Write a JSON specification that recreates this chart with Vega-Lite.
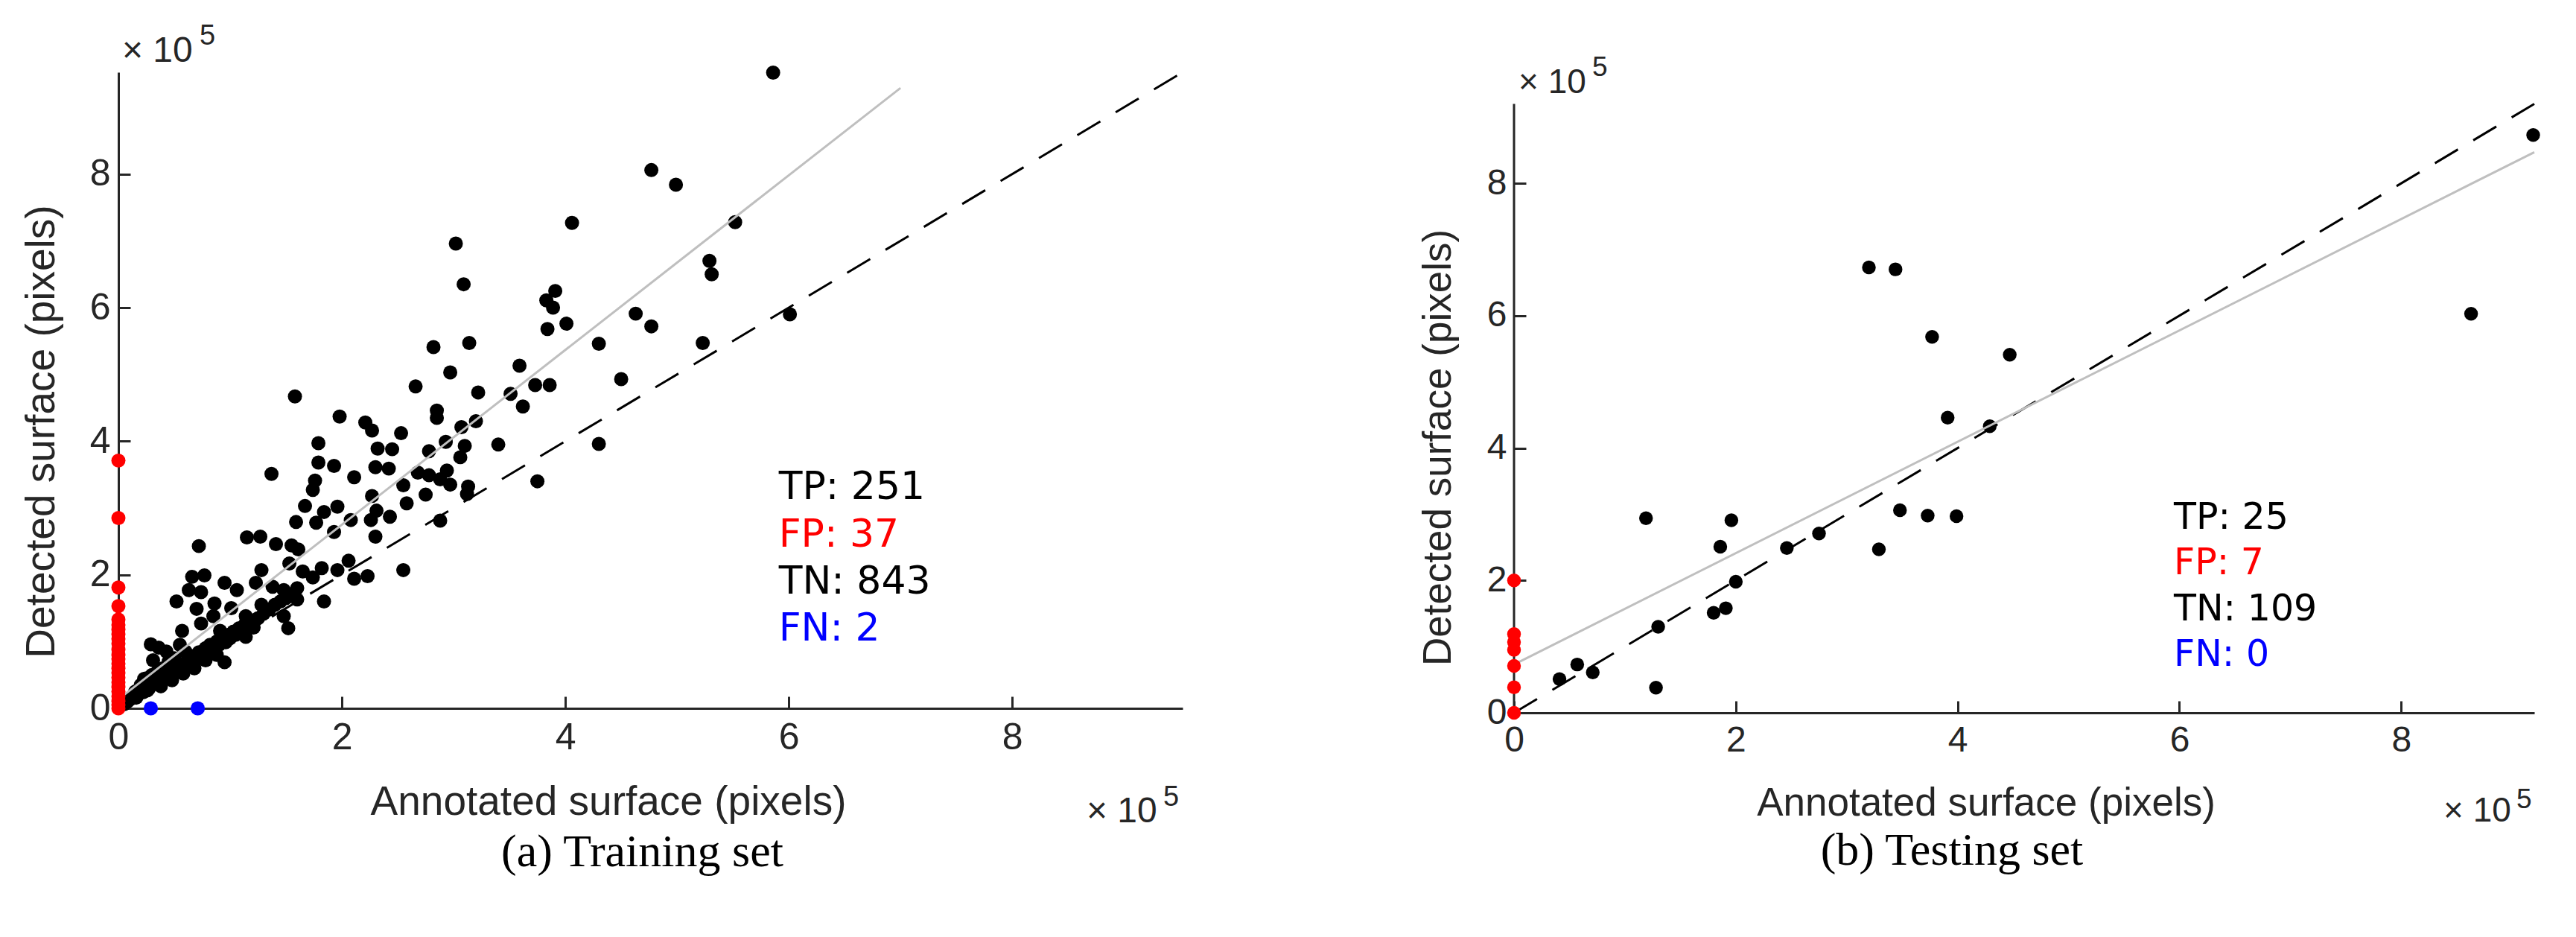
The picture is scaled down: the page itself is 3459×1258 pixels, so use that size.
{
  "$schema": "https://vega.github.io/schema/vega-lite/v6.json",
  "background": "white",
  "padding": {"left": 27, "top": 30, "right": 10, "bottom": 10},
  "spacing": 310,
  "align": "none",
  "config": {
    "view": {"stroke": null},
    "axis": {
      "grid": false,
      "domainColor": "#262626",
      "domainWidth": 3,
      "tickColor": "#262626",
      "tickWidth": 3,
      "tickSize": -16,
      "labelColor": "#262626",
      "labelFont": "Liberation Sans",
      "labelFontSize": 50,
      "titleFont": "Liberation Sans",
      "titleFontSize": 55,
      "titleFontWeight": "normal",
      "titleColor": "#262626",
      "labelFlush": false,
      "labelOverlap": false
    }
  },
  "hconcat": [
    {
      "width": 1429,
      "height": 854,
      "title": {"text": "(a) Training set", "orient": "bottom", "anchor": "middle", "frame": "group", "font": "Liberation Serif", "fontSize": 62, "fontWeight": "normal", "color": "#000000", "baseline": "top", "offset": 0, "dx": -11},
      "encoding": {
        "x": {"field": "a", "type": "quantitative", "scale": {"domain": [0, 952500], "nice": false},
          "axis": {"title": "Annotated surface (pixels)", "values": [0, 200000, 400000, 600000, 800000], "labelExpr": "format(datum.value / 100000, 'd')", "labelPadding": 30, "titleX": 657.5, "titleY": 142.5, "titleAlign": "center", "titleBaseline": "alphabetic", "titleAnchor": null}},
        "y": {"field": "d", "type": "quantitative", "scale": {"domain": [0, 952500], "nice": false},
          "axis": {"title": "Detected surface (pixels)", "values": [0, 200000, 400000, 600000, 800000], "labelExpr": "format(datum.value / 100000, 'd')", "labelPadding": 27, "titleX": -87, "titleY": 482, "titleAngle": 270, "titleAlign": "center", "titleBaseline": "alphabetic", "titleAnchor": null}}
      },
      "layer": [
        {
          "data": {"values": [
            {"a":586000,"d":952000},{"a":477000,"d":806000},{"a":499000,"d":784000},{"a":406000,"d":727000},{"a":552000,"d":728000},{"a":302000,"d":696000},{"a":529000,"d":670000},{"a":531000,"d":650000},{"a":309000,"d":635000},{"a":391000,"d":625000},{"a":383000,"d":611000},{"a":389000,"d":600000},{"a":463000,"d":591000},{"a":601000,"d":590000},{"a":401000,"d":576000},{"a":384000,"d":568000},{"a":477000,"d":572000},{"a":523000,"d":547000},{"a":282000,"d":541000},{"a":314000,"d":547000},{"a":430000,"d":546000},{"a":359000,"d":513000},{"a":297000,"d":503000},{"a":266000,"d":482000},{"a":450000,"d":493000},{"a":322000,"d":473000},{"a":373000,"d":484000},{"a":386000,"d":484000},{"a":351000,"d":471000},{"a":362000,"d":452000},{"a":285000,"d":446000},{"a":285000,"d":435000},{"a":158000,"d":467000},{"a":198000,"d":437000},{"a":221000,"d":428000},{"a":227000,"d":416000},{"a":253000,"d":412000},{"a":320000,"d":430000},{"a":307000,"d":421000},{"a":293000,"d":399000},{"a":310000,"d":393000},{"a":340000,"d":395000},{"a":430000,"d":396000},{"a":179000,"d":397000},{"a":232000,"d":389000},{"a":245000,"d":388000},{"a":278000,"d":385000},{"a":306000,"d":376000},{"a":179000,"d":368000},{"a":193000,"d":363000},{"a":230000,"d":361000},{"a":242000,"d":359000},{"a":137000,"d":351000},{"a":211000,"d":346000},{"a":176000,"d":341000},{"a":268000,"d":353000},{"a":278000,"d":349000},{"a":294000,"d":356000},{"a":288000,"d":343000},{"a":297000,"d":335000},{"a":174000,"d":327000},{"a":255000,"d":334000},{"a":227000,"d":318000},{"a":313000,"d":332000},{"a":312000,"d":321000},{"a":275000,"d":320000},{"a":375000,"d":340000},{"a":167000,"d":303000},{"a":184000,"d":294000},{"a":196000,"d":302000},{"a":258000,"d":307000},{"a":231000,"d":296000},{"a":159000,"d":279000},{"a":177000,"d":278000},{"a":208000,"d":282000},{"a":243000,"d":287000},{"a":226000,"d":282000},{"a":193000,"d":264000},{"a":230000,"d":257000},{"a":288000,"d":281000},{"a":115000,"d":256000},{"a":127000,"d":257000},{"a":141000,"d":246000},{"a":72000,"d":243000},{"a":155000,"d":244000},{"a":161000,"d":238000},{"a":153000,"d":217000},{"a":206000,"d":221000},{"a":182000,"d":210000},{"a":196000,"d":207000},{"a":165000,"d":205000},{"a":174000,"d":196000},{"a":128000,"d":207000},{"a":66000,"d":197000},{"a":77000,"d":199000},{"a":211000,"d":194000},{"a":223000,"d":198000},{"a":255000,"d":207000},{"a":95000,"d":188000},{"a":106000,"d":177000},{"a":123000,"d":188000},{"a":138000,"d":182000},{"a":148000,"d":177000},{"a":160000,"d":180000},{"a":63000,"d":177000},{"a":74000,"d":174000},{"a":184000,"d":160000},{"a":52000,"d":160000},{"a":86000,"d":157000},{"a":70000,"d":149000},{"a":101000,"d":150000},{"a":128000,"d":155000},{"a":160000,"d":163000},{"a":148000,"d":138000},{"a":114000,"d":138000},{"a":85000,"d":138000},{"a":74000,"d":127000},{"a":57000,"d":116000},{"a":152000,"d":120000},{"a":121000,"d":121000},{"a":114000,"d":107000},{"a":96000,"d":99000},{"a":91000,"d":116000},{"a":29000,"d":96000},{"a":36000,"d":91000},{"a":43000,"d":85000},{"a":95000,"d":69000},{"a":65000,"d":77000},{"a":31000,"d":72000},{"a":55000,"d":66000},{"a":23000,"d":44000},{"a":33000,"d":38000},{"a":26000,"d":27000},{"a":16000,"d":16000},
            {"a":5000,"d":6000},{"a":8000,"d":10000},{"a":10000,"d":13000},{"a":12000,"d":15000},{"a":15000,"d":20000},{"a":18000,"d":22000},{"a":20000,"d":26000},{"a":22000,"d":24000},{"a":25000,"d":31000},{"a":27000,"d":29000},{"a":30000,"d":35000},{"a":32000,"d":40000},{"a":35000,"d":38000},{"a":37000,"d":45000},{"a":40000,"d":43000},{"a":42000,"d":50000},{"a":45000,"d":48000},{"a":47000,"d":56000},{"a":50000,"d":53000},{"a":52000,"d":62000},{"a":55000,"d":58000},{"a":57000,"d":66000},{"a":60000,"d":63000},{"a":62000,"d":72000},{"a":65000,"d":68000},{"a":67000,"d":78000},{"a":70000,"d":74000},{"a":72000,"d":84000},{"a":75000,"d":80000},{"a":78000,"d":90000},{"a":80000,"d":85000},{"a":82000,"d":95000},{"a":85000,"d":90000},{"a":88000,"d":100000},{"a":90000,"d":95000},{"a":92000,"d":105000},{"a":95000,"d":100000},{"a":98000,"d":110000},{"a":100000,"d":105000},{"a":103000,"d":115000},{"a":105000,"d":110000},{"a":108000,"d":120000},{"a":110000,"d":115000},{"a":113000,"d":125000},{"a":116000,"d":122000},{"a":120000,"d":130000},{"a":125000,"d":135000},{"a":130000,"d":142000},{"a":135000,"d":148000},{"a":140000,"d":155000},{"a":145000,"d":160000},{"a":150000,"d":165000},{"a":155000,"d":170000},{"a":40000,"d":60000},{"a":45000,"d":70000},{"a":50000,"d":75000},{"a":35000,"d":55000},{"a":60000,"d":85000},{"a":55000,"d":95000},{"a":25000,"d":45000},{"a":20000,"d":35000},{"a":30000,"d":50000},{"a":15000,"d":25000},{"a":38000,"d":33000},{"a":48000,"d":42000},{"a":58000,"d":52000},{"a":68000,"d":60000},{"a":78000,"d":72000},{"a":88000,"d":80000}
          ]},
          "mark": {"type": "circle", "size": 360, "opacity": 1, "color": "#000000", "clip": false}
        },
        {
          "data": {"values": [{"a": 0, "d": 0}, {"a": 952500, "d": 952500}]},
          "mark": {"type": "line", "color": "#000000", "strokeWidth": 3, "strokeDash": [36, 24]}
        },
        {
          "data": {"values": [{"a": 0, "d": 13500}, {"a": 700000, "d": 929000}]},
          "mark": {"type": "line", "color": "#bfbfbf", "strokeWidth": 3}
        },
        {
          "data": {"values": [
            {"a":0,"d":371000},{"a":0,"d":285000},{"a":0,"d":181000},{"a":0,"d":153000},{"a":0,"d":133000},{"a":0,"d":125000},{"a":0,"d":118000},{"a":0,"d":111000},{"a":0,"d":104000},{"a":0,"d":97000},{"a":0,"d":88000},{"a":0,"d":80000},{"a":0,"d":74000},{"a":0,"d":67000},{"a":0,"d":60000},{"a":0,"d":53000},{"a":0,"d":46000},{"a":0,"d":39000},{"a":0,"d":32000},{"a":0,"d":25000},{"a":0,"d":18000},{"a":0,"d":11000},{"a":0,"d":5000},{"a":0,"d":0}
          ]},
          "mark": {"type": "circle", "size": 360, "opacity": 1, "color": "#ff0000", "clip": false}
        },
        {
          "data": {"values": [{"a": 29000, "d": 0}, {"a": 71000, "d": 0}]},
          "mark": {"type": "circle", "size": 370, "opacity": 1, "color": "#0000ff", "clip": false}
        },
        {
          "data": {"values": [
            {"a": 591000, "d": 313100, "t": "TP: 251", "k": "TP"},
            {"a": 591000, "d": 242400, "t": "FP: 37", "k": "FP"},
            {"a": 591000, "d": 171700, "t": "TN: 843", "k": "TN"},
            {"a": 591000, "d": 101000, "t": "FN: 2", "k": "FN"}
          ]},
          "mark": {"type": "text", "align": "left", "baseline": "alphabetic", "font": "DejaVu Sans", "fontSize": 52},
          "encoding": {
            "text": {"field": "t"},
            "color": {"field": "k", "type": "nominal", "scale": {"domain": ["TP", "FP", "TN", "FN"], "range": ["#000000", "#ff0000", "#000000", "#0000ff"]}, "legend": null}
          }
        },
        {
          "data": {"values": [{"a": 0, "d": 952500, "t": "× 10"}]},
          "mark": {"type": "text", "align": "left", "baseline": "alphabetic", "font": "Liberation Sans", "fontSize": 48, "color": "#262626", "dx": 5, "dy": -14, "clip": false},
          "encoding": {"text": {"field": "t"}}
        },
        {
          "data": {"values": [{"a": 0, "d": 952500, "t": "5"}]},
          "mark": {"type": "text", "align": "left", "baseline": "alphabetic", "font": "Liberation Sans", "fontSize": 38, "color": "#262626", "dx": 109, "dy": -37, "clip": false},
          "encoding": {"text": {"field": "t"}}
        },
        {
          "data": {"values": [{"a": 952500, "d": 0, "t": "× 10"}]},
          "mark": {"type": "text", "align": "left", "baseline": "alphabetic", "font": "Liberation Sans", "fontSize": 48, "color": "#262626", "dx": -129, "dy": 153, "clip": false},
          "encoding": {"text": {"field": "t"}}
        },
        {
          "data": {"values": [{"a": 952500, "d": 0, "t": "5"}]},
          "mark": {"type": "text", "align": "left", "baseline": "alphabetic", "font": "Liberation Sans", "fontSize": 38, "color": "#262626", "dx": -26, "dy": 131, "clip": false},
          "encoding": {"text": {"field": "t"}}
        }
      ]
    },
    {
      "width": 1370,
      "height": 860,
      "title": {"text": "(b) Testing set", "orient": "bottom", "anchor": "middle", "frame": "group", "font": "Liberation Serif", "fontSize": 62, "fontWeight": "normal", "color": "#000000", "baseline": "top", "offset": 0, "dx": -97},
      "encoding": {
        "x": {"field": "a", "type": "quantitative", "scale": {"domain": [0, 920000], "nice": false},
          "axis": {"title": "Annotated surface (pixels)", "values": [0, 200000, 400000, 600000, 800000], "labelExpr": "format(datum.value / 100000, 'd')", "labelPadding": 29, "labelFontSize": 48, "titleFontSize": 53, "titleX": 633.5, "titleY": 137, "titleAlign": "center", "titleBaseline": "alphabetic", "titleAnchor": null}},
        "y": {"field": "d", "type": "quantitative", "scale": {"domain": [0, 967800], "nice": false},
          "axis": {"title": "Detected surface (pixels)", "domain": false, "values": [0, 200000, 400000, 600000, 800000], "labelExpr": "format(datum.value / 100000, 'd')", "labelPadding": 26, "labelFontSize": 48, "titleFontSize": 53, "titleX": -86, "titleY": 503.5, "titleAngle": 270, "titleAlign": "center", "titleBaseline": "alphabetic", "titleAnchor": null}}
      },
      "layer": [
        {
          "data": {"values": [{"a": 0, "d": 0, "d2": 920000}]},
          "mark": {"type": "rule", "color": "#262626", "strokeWidth": 3},
          "encoding": {"y2": {"field": "d2"}}
        },
        {
          "data": {"values": [
            {"a":919000,"d":873000},{"a":863000,"d":603000},{"a":320000,"d":673000},{"a":344000,"d":670000},{"a":377000,"d":568000},{"a":447000,"d":541000},{"a":391000,"d":446000},{"a":429000,"d":433000},{"a":348000,"d":306000},{"a":373000,"d":298000},{"a":399000,"d":297000},{"a":119000,"d":294000},{"a":196000,"d":291000},{"a":186000,"d":251000},{"a":275000,"d":271000},{"a":246000,"d":249000},{"a":329000,"d":247000},{"a":200000,"d":198000},{"a":191000,"d":158000},{"a":180000,"d":151000},{"a":130000,"d":130000},{"a":41000,"d":51000},{"a":57000,"d":73000},{"a":71000,"d":61000},{"a":128000,"d":38000}
          ]},
          "mark": {"type": "circle", "size": 340, "opacity": 1, "color": "#000000", "clip": false}
        },
        {
          "data": {"values": [{"a": 0, "d": 0}, {"a": 920000, "d": 920000}]},
          "mark": {"type": "line", "color": "#000000", "strokeWidth": 3, "strokeDash": [36, 24]}
        },
        {
          "data": {"values": [{"a": 0, "d": 73000}, {"a": 920000, "d": 847000}]},
          "mark": {"type": "line", "color": "#bfbfbf", "strokeWidth": 3}
        },
        {
          "data": {"values": [
            {"a":0,"d":200000},{"a":0,"d":119000},{"a":0,"d":107000},{"a":0,"d":95000},{"a":0,"d":71000},{"a":0,"d":38500},{"a":0,"d":0}
          ]},
          "mark": {"type": "circle", "size": 340, "opacity": 1, "color": "#ff0000", "clip": false}
        },
        {
          "data": {"values": [
            {"a": 595000, "d": 278000, "t": "TP: 25", "k": "TP"},
            {"a": 595000, "d": 209000, "t": "FP: 7", "k": "FP"},
            {"a": 595000, "d": 139000, "t": "TN: 109", "k": "TN"},
            {"a": 595000, "d": 70600, "t": "FN: 0", "k": "FN"}
          ]},
          "mark": {"type": "text", "align": "left", "baseline": "alphabetic", "font": "DejaVu Sans", "fontSize": 49},
          "encoding": {
            "text": {"field": "t"},
            "color": {"field": "k", "type": "nominal", "scale": {"domain": ["TP", "FP", "TN", "FN"], "range": ["#000000", "#ff0000", "#000000", "#0000ff"]}, "legend": null}
          }
        },
        {
          "data": {"values": [{"a": 0, "d": 920000, "t": "× 10"}]},
          "mark": {"type": "text", "align": "left", "baseline": "alphabetic", "font": "Liberation Sans", "fontSize": 46, "color": "#262626", "dx": 6, "dy": -14, "clip": false},
          "encoding": {"text": {"field": "t"}}
        },
        {
          "data": {"values": [{"a": 0, "d": 920000, "t": "5"}]},
          "mark": {"type": "text", "align": "left", "baseline": "alphabetic", "font": "Liberation Sans", "fontSize": 37, "color": "#262626", "dx": 105, "dy": -37, "clip": false},
          "encoding": {"text": {"field": "t"}}
        },
        {
          "data": {"values": [{"a": 920000, "d": 0, "t": "× 10"}]},
          "mark": {"type": "text", "align": "left", "baseline": "alphabetic", "font": "Liberation Sans", "fontSize": 46, "color": "#262626", "dx": -122, "dy": 146, "clip": false},
          "encoding": {"text": {"field": "t"}}
        },
        {
          "data": {"values": [{"a": 920000, "d": 0, "t": "5"}]},
          "mark": {"type": "text", "align": "left", "baseline": "alphabetic", "font": "Liberation Sans", "fontSize": 37, "color": "#262626", "dx": -24, "dy": 128, "clip": false},
          "encoding": {"text": {"field": "t"}}
        }
      ]
    }
  ]
}
